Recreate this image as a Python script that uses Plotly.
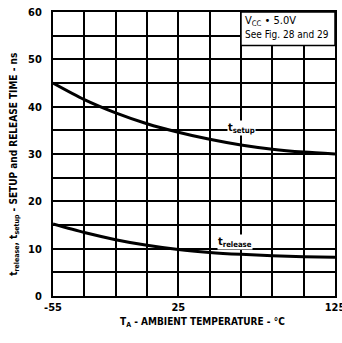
import plotly.graph_objects as go

# temperatura (C) e tempos (ns)
temp = [-55, -35, -15, 5, 25, 45, 65, 85, 105, 125]
t_setup = [45.0, 41.5, 38.7, 36.4, 34.6, 33.1, 31.9, 31.0, 30.4, 30.0]
t_release = [15.2, 13.4, 11.9, 10.7, 9.8, 9.2, 8.8, 8.5, 8.3, 8.2]

x_ticks = [-55, -35, -15, 5, 25, 45, 65, 85, 105, 125]
x_text = ["-55", "", "", "", "25", "", "", "", "", "125"]
y_ticks = list(range(0, 61, 5))
y_text = [str(v) if v % 10 == 0 else "" for v in y_ticks]

fonte = "DejaVu Sans Condensed, Liberation Sans Narrow, sans-serif"


def f(size, weight="bold"):
    return dict(size=size, color="black", family=fonte, weight=weight)


fig = go.Figure()
fig.add_scatter(x=temp, y=t_setup, mode="lines",
                line=dict(color="black", width=3, shape="spline", smoothing=0.8), showlegend=False)
fig.add_scatter(x=temp, y=t_release, mode="lines",
                line=dict(color="black", width=3, shape="spline", smoothing=0.8), showlegend=False)

# caixa de condicoes no canto
fig.add_shape(type="rect", x0=65, x1=125, y0=52.9, y1=60, fillcolor="white",
              line=dict(color="black", width=1.5), layer="above")
fig.add_annotation(x=66, y=58.2, xanchor="left", yanchor="middle", showarrow=False,
                   text="V<sub>CC</sub> • 5.0V", font=f(11, "normal"))
fig.add_annotation(x=66, y=55.2, xanchor="left", yanchor="middle", showarrow=False,
                   text="See Fig. 28 and 29", font=f(10, "normal"))

fig.add_annotation(x=65, y=35.4, showarrow=False, text="t<sub>setup</sub>", bgcolor="white",
                   font=f(11), borderpad=0)
fig.add_annotation(x=61, y=11.4, showarrow=False, text="t<sub>release</sub>", bgcolor="white",
                   font=f(11), borderpad=0)

# titulos dos eixos como anotacoes (posicao controlada)
fig.add_annotation(xref="paper", yref="paper", x=0.53, y=-0.093, xanchor="center",
                   yanchor="middle", showarrow=False,
                   text="T<sub>A</sub> - AMBIENT TEMPERATURE - °C", font=f(10))
fig.add_annotation(xref="paper", yref="paper", x=-0.135, y=0.465, xanchor="center",
                   yanchor="middle", showarrow=False, textangle=-90,
                   text="t<sub>release</sub>, t<sub>setup</sub> - SETUP and RELEASE TIME - ns",
                   font=f(10))

fig.update_xaxes(range=[-55, 125], tickvals=x_ticks, ticktext=x_text, showgrid=True,
                 gridcolor="black", gridwidth=1.5, showline=True, linecolor="black", linewidth=2,
                 mirror=True, zeroline=False, ticks="", ticklabelstandoff=0, automargin=False,
                 ticklabeloverflow="allow", tickfont=f(11))
fig.update_yaxes(range=[0, 60], tickvals=y_ticks, ticktext=y_text, showgrid=True,
                 gridcolor="black", gridwidth=1.5, showline=True, linecolor="black", linewidth=2,
                 mirror=True, zeroline=False, ticks="", ticklabelstandoff=7, tickfont=f(11),
                 automargin=False)

fig.update_layout(width=342, height=343, margin=dict(l=53, r=7, t=12, b=47),
                  plot_bgcolor="white", paper_bgcolor="white")

# tira a margem padrao do body para o grafico encostar no canto da janela
fig.write_html("out.html", config={"displayModeBar": False},
               post_script="document.body.style.margin='0';")
